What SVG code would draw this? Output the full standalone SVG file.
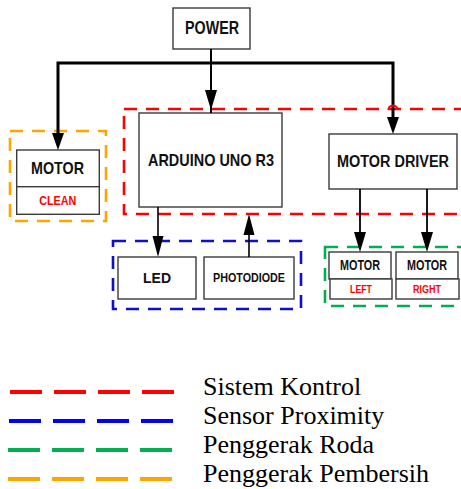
<svg xmlns="http://www.w3.org/2000/svg" width="461" height="489" viewBox="0 0 461 489">
<style>
.box{fill:#fff;stroke:#3a3a3a;stroke-width:1.4}
.t{font-family:"Liberation Sans Narrow","Liberation Sans",Arial,sans-serif;font-weight:bold;fill:#111;text-anchor:middle}
.r{fill:#ff0000}
.leg{font-family:"Liberation Serif","Times New Roman",serif;font-size:26px;fill:#000}
.grp{fill:none;stroke-width:2.6;stroke-dasharray:13 9}
.ln{fill:none;stroke:#000}
.hd{fill:#000}
</style>
<g id="groups">
<rect class="grp" x="124" y="109" width="345" height="105" stroke="#ff0000"/>
<rect class="grp" x="10" y="131" width="96" height="90" stroke="#ffa500" stroke-dasharray="10 7"/>
<rect class="grp" x="113" y="241" width="188" height="68" stroke="#1010cc" stroke-dasharray="13 9"/>
<rect class="grp" x="325" y="247" width="145" height="59" stroke="#00b050" stroke-dasharray="11 7"/>
</g>
<g id="power"><rect class="box" x="173" y="8" width="77" height="41"/><text class="t" x="212" y="34" font-size="18" textLength="54" lengthAdjust="spacingAndGlyphs">POWER</text></g>
<g id="arduino"><rect class="box" x="139" y="113" width="143" height="94"/><text class="t" x="211" y="166" font-size="17" textLength="126" lengthAdjust="spacingAndGlyphs">ARDUINO UNO R3</text></g>
<g id="motor-driver"><rect class="box" x="329" y="134" width="128" height="55"/><text class="t" x="393" y="167" font-size="16" textLength="112" lengthAdjust="spacingAndGlyphs">MOTOR DRIVER</text></g>
<g id="motor-clean"><rect class="box" x="16.7" y="150" width="82.6" height="36.7"/><rect class="box" x="16.7" y="186.7" width="82.6" height="27.6"/><text class="t" x="57.5" y="174" font-size="17" textLength="53" lengthAdjust="spacingAndGlyphs">MOTOR</text><text class="t r" x="57.7" y="204.5" font-size="12" textLength="37" lengthAdjust="spacingAndGlyphs">CLEAN</text></g>
<g id="led"><rect class="box" x="118" y="257" width="78" height="42"/><text class="t" x="157" y="283" font-size="15.5" textLength="28" lengthAdjust="spacingAndGlyphs">LED</text></g>
<g id="photodiode"><rect class="box" x="204" y="257" width="90" height="42"/><text class="t" x="249" y="282" font-size="13" textLength="72" lengthAdjust="spacingAndGlyphs">PHOTODIODE</text></g>
<g id="motor-left"><rect class="box" x="329" y="252" width="62" height="27"/><rect class="box" x="330" y="279" width="62" height="20"/><text class="t" x="360" y="270" font-size="14" textLength="40" lengthAdjust="spacingAndGlyphs">MOTOR</text><text class="t r" x="361" y="293" font-size="10.5" textLength="22" lengthAdjust="spacingAndGlyphs">LEFT</text></g>
<g id="motor-right"><rect class="box" x="396" y="252" width="62" height="27"/><rect class="box" x="396" y="279" width="63" height="20"/><text class="t" x="427" y="270" font-size="14" textLength="40" lengthAdjust="spacingAndGlyphs">MOTOR</text><text class="t r" x="427" y="293" font-size="10.5" textLength="28" lengthAdjust="spacingAndGlyphs">RIGHT</text></g>
<g id="connectors">
<path class="ln" stroke-width="3" d="M58,134 V63 H393 V118"/>
<path class="hd" d="M52,133 L64,133 L58,150 z"/>
<path fill="none" stroke="#ff0000" stroke-width="2.2" d="M388.5,110 a4.5,4.5 0 0 1 9,0"/>
<path class="hd" d="M387,117 L399,117 L393,134 z"/>
<path class="ln" stroke-width="2" d="M211,49 V113"/>
<path class="hd" d="M205,90 L217,90 L211,110 z"/>
<path class="ln" stroke-width="1.6" d="M158,207 V240"/>
<path class="hd" d="M152.5,236 L163.5,236 L158,257 z"/>
<path class="ln" stroke-width="1.6" d="M249,257 V230"/>
<path class="hd" d="M243.5,235 L254.5,235 L249,214 z"/>
<path class="ln" stroke="#333" stroke-width="1.8" d="M360,189 V235"/>
<path class="hd" d="M354,232 L366,232 L360,252 z"/>
<path class="ln" stroke="#333" stroke-width="1.8" d="M427,189 V235"/>
<path class="hd" d="M421,232 L433,232 L427,252 z"/>
</g>
<g id="legend">
<g stroke-width="4" stroke-dasharray="32 12">
<line x1="10" y1="392" x2="174" y2="392" stroke="#ff0000"/>
<line x1="9" y1="421" x2="173" y2="421" stroke="#0000ff"/>
<line x1="8" y1="450" x2="172" y2="450" stroke="#00b050"/>
<line x1="8" y1="479" x2="172" y2="479" stroke="#ffa500"/>
</g>
<text class="leg" x="203" y="395">Sistem Kontrol</text>
<text class="leg" x="203" y="424">Sensor Proximity</text>
<text class="leg" x="203" y="453">Penggerak Roda</text>
<text class="leg" x="203" y="482">Penggerak Pembersih</text>
</g>
</svg>
